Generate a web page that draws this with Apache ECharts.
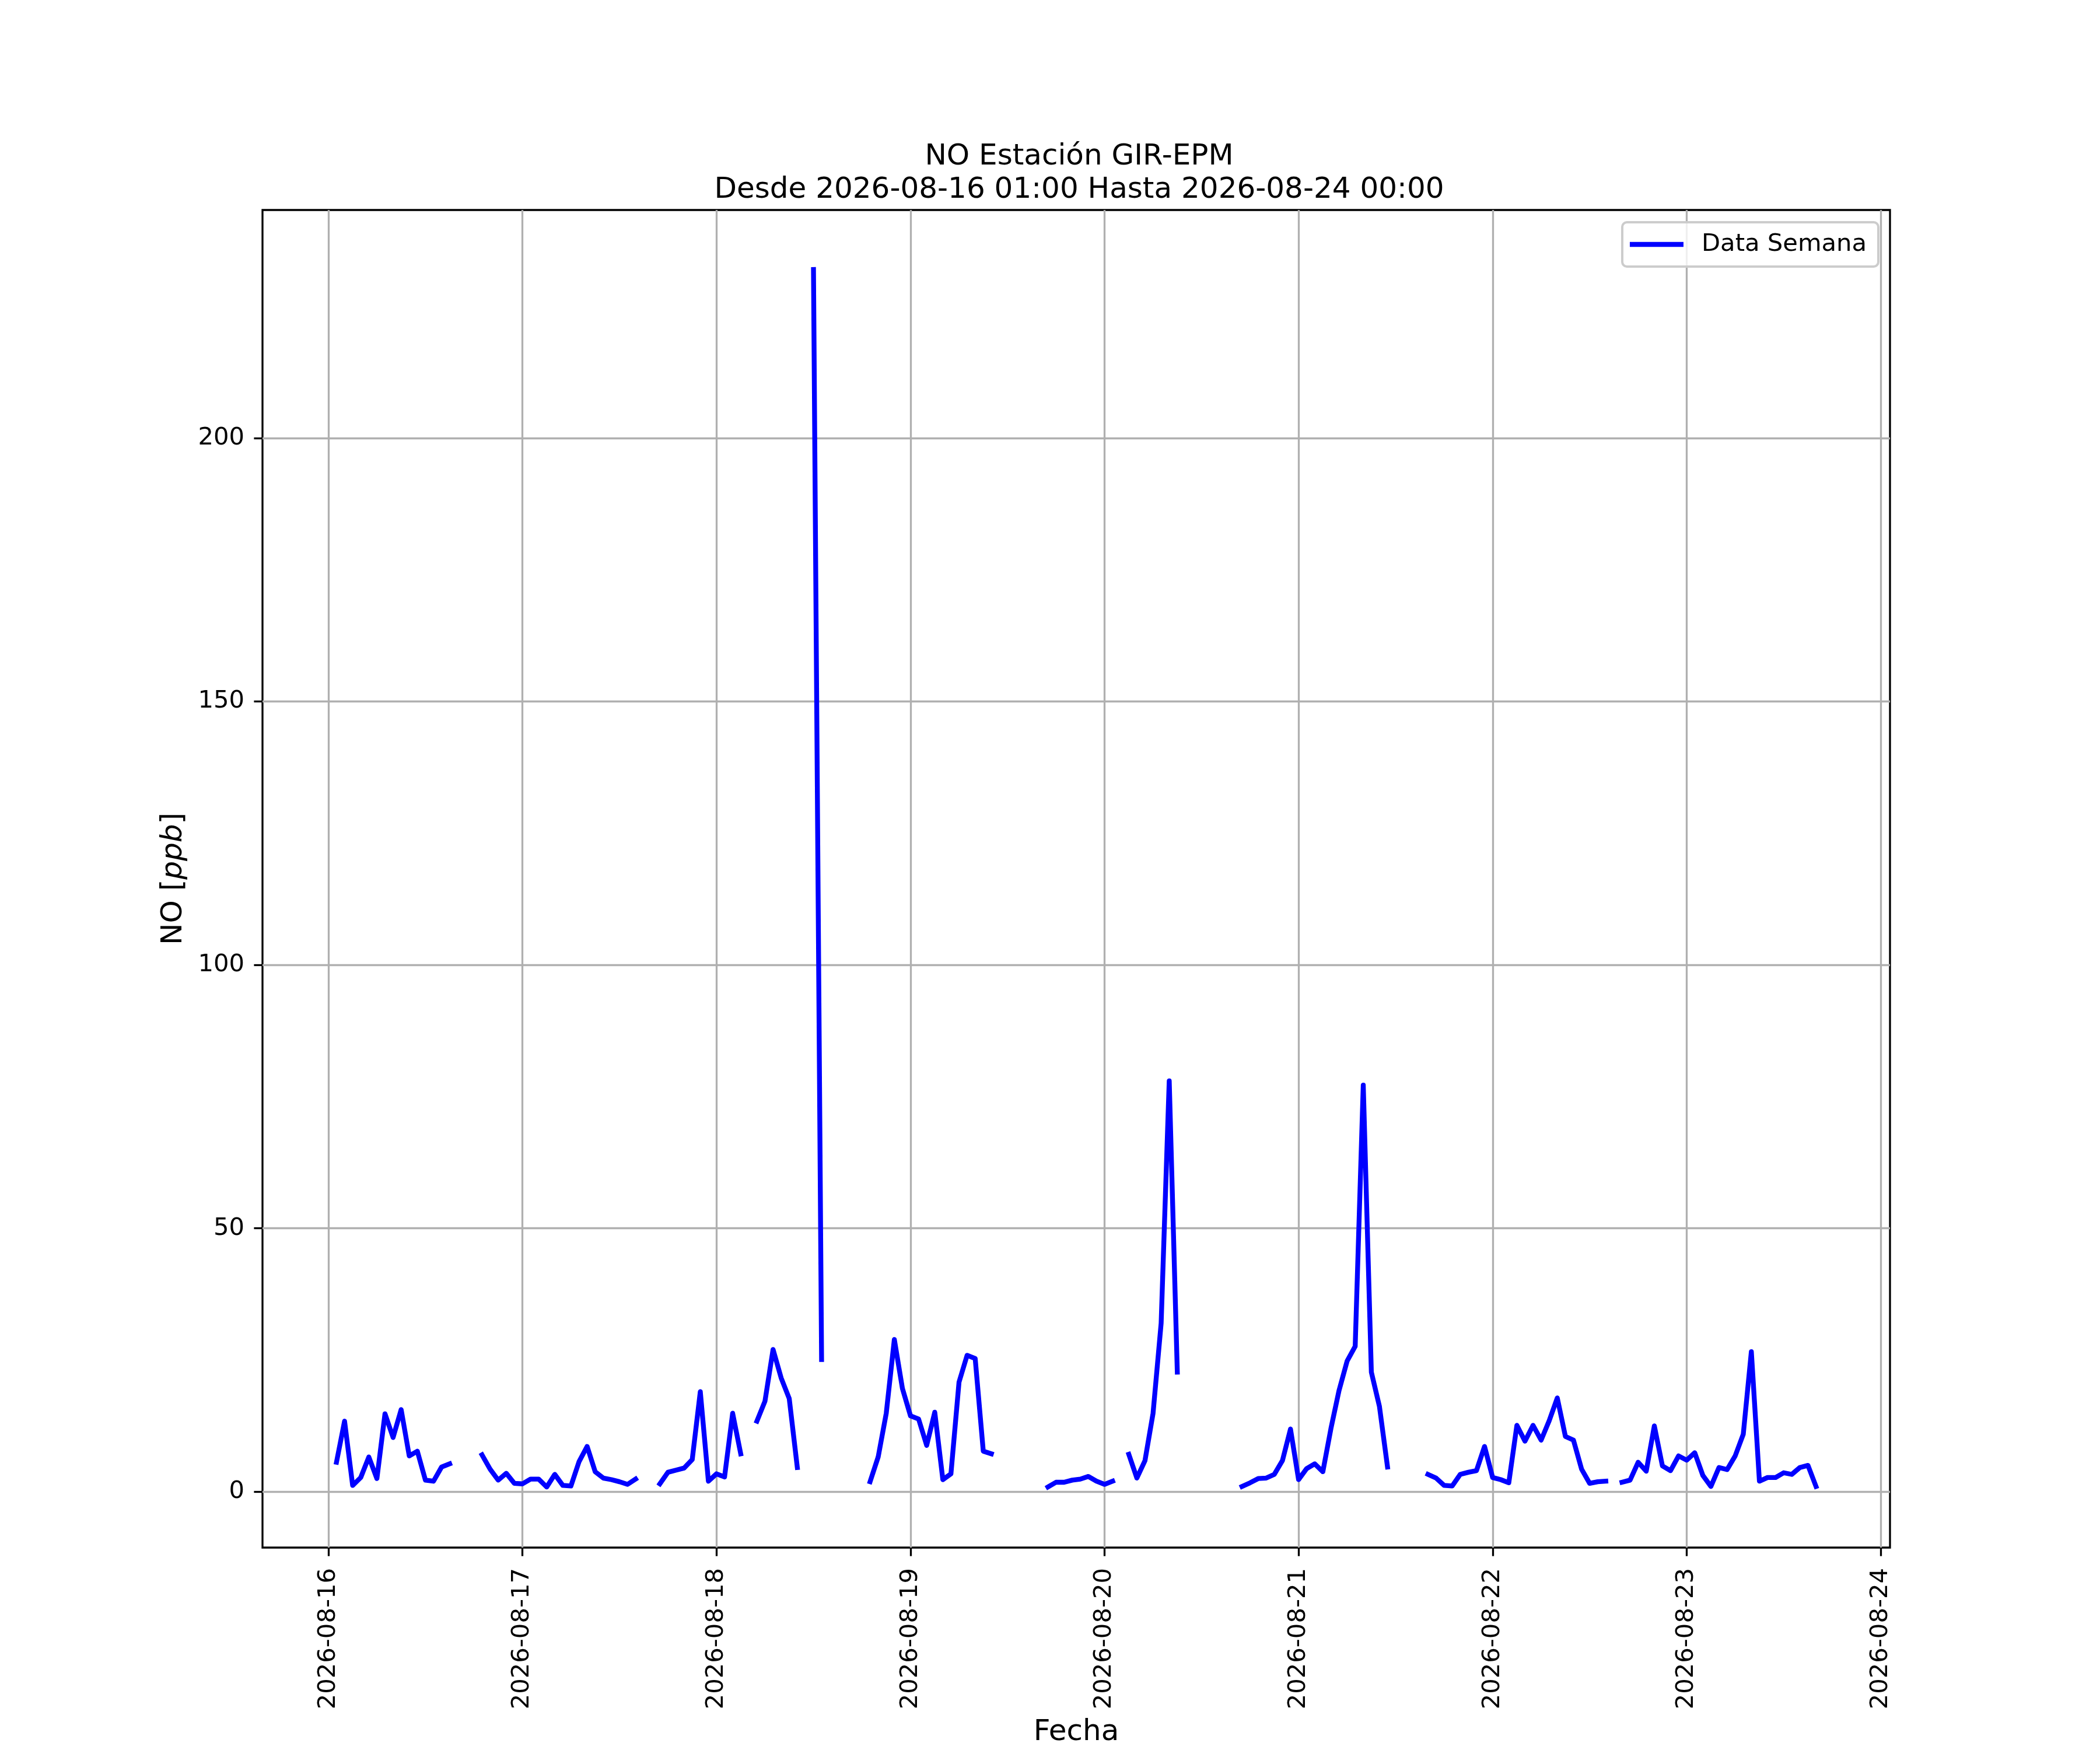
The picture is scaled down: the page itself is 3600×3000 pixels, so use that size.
<!DOCTYPE html>
<html>
<head>
<meta charset="utf-8">
<script src="https://cdn.jsdelivr.net/npm/echarts@6/dist/echarts.min.js"></script>
<style>
  html, body { margin: 0; padding: 0; background: #fff; }
  #chart { width: 3600px; height: 3000px; }
</style>
</head>
<body>
<div id="chart"></div>
<script>
// NO hourly values, ppb. null = no data (gap in the line)
const startHour = 1; // first value at 2026-08-16 01:00
const no16 = [5.6, 13.4, 1.2, 2.7, 6.6, 2.5, 14.8, 10.3, 15.6, 6.8, 7.7, 2.2, 2.0, 4.7, 5.3, null, null, null, 7.0, 4.3, 2.2, 3.5, 1.6];
const no17 = [1.5, 2.4, 2.4, 0.9, 3.3, 1.2, 1.1, 5.7, 8.6, 3.8, 2.6, 2.3, 1.9, 1.4, 2.4, null, null, 1.5, 3.7, 4.1, 4.5, 6.1, 19.0, 2.0];
const no18 = [3.4, 2.8, 14.9, 7.2, null, 13.4, 17.2, 27.0, 21.6, 17.7, 4.6, null, 232, 25.1, null, null, null, null, null, 1.9, 6.6, 14.9, 28.9, 19.6];
const no19 = [14.4, 13.8, 8.8, 15.1, 2.3, 3.4, 20.8, 25.9, 25.3, 7.7, 7.2, null, null, null, null, null, null, 0.9, 1.8, 1.8, 2.2, 2.4, 2.9, 2.0];
const no20 = [1.4, 2.0, null, 7.1, 2.6, 5.9, 14.9, 32.0, 78.0, 22.7, null, null, null, null, null, null, null, 1.0, 1.7, 2.5, 2.6, 3.3, 5.9, 11.9];
const no21 = [2.3, 4.4, 5.3, 3.8, 12.0, 19.2, 24.8, 27.6, 77.2, 22.7, 16.2, 4.7, null, null, null, null, 3.3, 2.6, 1.2, 1.1, 3.3, 3.7, 4.0, 8.6];
const no22 = [2.7, 2.3, 1.7, 12.6, 9.6, 12.6, 9.8, 13.5, 17.8, 10.5, 9.8, 4.3, 1.6, 1.9, 2.0, null, 1.8, 2.2, 5.6, 3.9, 12.5, 4.9, 4.0, 6.8];
const no23 = [6.0, 7.4, 3.1, 1.0, 4.6, 4.2, 6.8, 10.9, 26.6, 2.0, 2.7, 2.7, 3.6, 3.3, 4.6, 5.0, 1.0];

// x ticks (hours since 2026-08-16 00:00) and their labels
const dayTicks = [0, 24, 48, 72, 96, 120, 144, 168, 192];
const dayLabels = ['2026-08-16', '2026-08-17', '2026-08-18', '2026-08-19', '2026-08-20',
                   '2026-08-21', '2026-08-22', '2026-08-23', '2026-08-24'];
const yTicks = [0, 50, 100, 150, 200];

const values = [].concat(no16, no17, no18, no19, no20, no21, no22, no23);
const seriesData = values.map((v, i) => [startHour + i, v]);

const font = 'DejaVu Sans';
const tickFont = 41.7;
const gridGray = '#b0b0b0';

let chart = echarts.init(document.getElementById('chart'), null, { renderer: 'canvas' });
chart.setOption({
    backgroundColor: '#ffffff',
    animation: false,
    title: {
        text: 'NO Estación GIR-EPM\nDesde 2026-08-16 01:00 Hasta 2026-08-24 00:00',
        left: 1845,
        top: 236,
        textAlign: 'center',
        textStyle: {
            fontFamily: font,
            fontSize: 50,
            fontWeight: 'normal',
            color: '#000',
            lineHeight: 57
        }
    },
    legend: {
        data: ['Data Semana'],
        right: 380,
        top: 381,
        orient: 'vertical',
        icon: 'rect',
        itemWidth: 92,
        itemHeight: 8.3,
        padding: [16, 20, 16, 13],
        backgroundColor: 'rgba(255,255,255,0.8)',
        borderColor: '#cccccc',
        borderWidth: 4,
        borderRadius: 8,
        textStyle: {
            fontFamily: font,
            fontSize: tickFont,
            color: '#000',
            padding: [0, 0, 0, 26],
            lineHeight: 44
        }
    },
    grid: {
        left: 450,
        right: 360,
        top: 360,
        bottom: 330,
        show: true,
        borderColor: '#000',
        borderWidth: 3.3,
        backgroundColor: 'transparent'
    },
    xAxis: {
        type: 'value',
        min: -8.15,
        max: 193.15,
        name: 'Fecha',
        nameLocation: 'middle',
        nameGap: 292,
        nameTextStyle: { fontFamily: font, fontSize: 50, color: '#000' },
        axisLine: { show: false, onZero: false },
        axisTick: {
            show: true,
            length: 14.6,
            customValues: dayTicks,
            lineStyle: { color: '#000', width: 3.3 }
        },
        axisLabel: {
            customValues: dayTicks,
            rotate: 90,
            margin: 35,
            fontFamily: font,
            fontSize: tickFont,
            color: '#000',
            formatter: v => dayLabels[Math.round(v / 24)]
        },
        splitLine: { show: true, lineStyle: { color: gridGray, width: 3.3 } }
    },
    yAxis: {
        type: 'value',
        min: -10.6,
        max: 243.3,
        name: '{n|NO [}{i|ppb}{n|]}',
        nameLocation: 'middle',
        nameGap: 127,
        nameTextStyle: {
            rich: {
                n: { fontFamily: font, fontSize: 50, color: '#000' },
                i: { fontFamily: font, fontSize: 50, fontStyle: 'italic', color: '#000' }
            }
        },
        axisLine: { show: false, onZero: false },
        axisTick: {
            show: true,
            length: 14.6,
            customValues: yTicks,
            lineStyle: { color: '#000', width: 3.3 }
        },
        axisLabel: {
            customValues: yTicks,
            margin: 31,
            fontFamily: font,
            fontSize: tickFont,
            color: '#000'
        },
        splitLine: { show: true, lineStyle: { color: gridGray, width: 3.3 } }
    },
    series: [{
        name: 'Data Semana',
        type: 'line',
        data: seriesData,
        showSymbol: false,
        symbol: 'none',
        connectNulls: false,
        color: '#0000ff',
        lineStyle: { color: '#0000ff', width: 8.33, join: 'round', cap: 'square' }
    }]
});
</script>
</body>
</html>
